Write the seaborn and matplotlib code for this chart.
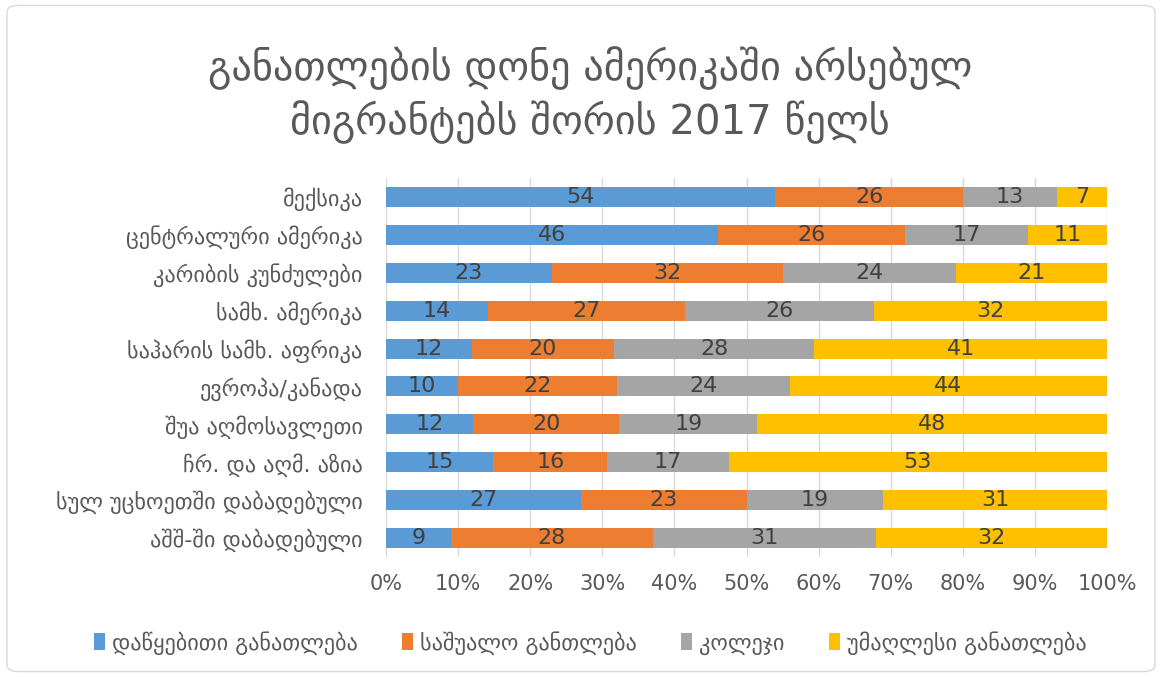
import pandas as pd
import numpy as np
import matplotlib
matplotlib.use("Agg")
import matplotlib.pyplot as plt
import seaborn as sns
from matplotlib.patches import FancyBboxPatch, Patch

regions = ["მექსიკა", "ცენტრალური ამერიკა", "კარიბის კუნძულები", "სამხ. ამერიკა",
           "საჰარის სამხ. აფრიკა", "ევროპა/კანადა", "შუა აღმოსავლეთი",
           "ჩრ. და აღმ. აზია", "სულ უცხოეთში დაბადებული", "აშშ-ში დაბადებული"]
primary = [54, 46, 23, 14, 12, 10, 12, 15, 27, 9]
secondary = [26, 26, 32, 27, 20, 22, 20, 16, 23, 28]
college = [13, 17, 24, 26, 28, 24, 19, 17, 19, 31]
higher = [7, 11, 21, 32, 41, 44, 48, 53, 31, 32]

series = ["დაწყებითი განათლება", "საშუალო განთლება", "კოლეჯი", "უმაღლესი განათლება"]
colors = ["#5B9BD5", "#ED7D31", "#A5A5A5", "#FFC000"]

title = "განათლების დონე ამერიკაში არსებულ\nმიგრანტებს შორის 2017 წელს"

df = pd.DataFrame({"region": regions, series[0]: primary, series[1]: secondary,
                   series[2]: college, series[3]: higher})
vals = df[series].astype(float)
share = vals.div(vals.sum(axis=1), axis=0) * 100
cum = share.cumsum(axis=1)

sns.set_style("white")
plt.rcParams["font.family"] = ["DejaVu Sans"]

fig = plt.figure(figsize=(11.62, 6.77), dpi=100)
ax = fig.add_axes([386 / 1162, 1 - 557 / 677, (1107 - 386) / 1162, (557 - 178) / 677])

# stacked bars: draw cumulative totals, widest first
for i in range(len(series) - 1, -1, -1):
    plot_df = pd.DataFrame({"region": regions, "val": cum[series[i]].values})
    sns.barplot(data=plot_df, y="region", x="val", color=colors[i], orient="h",
                width=0.53, ax=ax, saturation=1, edgecolor="none")

for i, s in enumerate(series):
    centers = cum[s] - share[s] / 2
    for j in range(len(regions)):
        ax.text(centers.iloc[j], j, str(int(vals[s].iloc[j])), ha="center", va="center",
                fontsize=16, color="#404040")

ax.set_xlim(0, 100)
ax.set_xticks(range(0, 101, 10))
ax.set_xticklabels([f"{t}%" for t in range(0, 101, 10)], fontsize=15, color="#595959")
ax.tick_params(axis="y", labelsize=16, labelcolor="#595959", length=0, pad=17)
ax.tick_params(axis="x", length=0, pad=12)
ax.set_xlabel("")
ax.set_ylabel("")
ax.xaxis.grid(True, color="#D9D9D9", linewidth=1)
ax.set_axisbelow(True)
for sp in ax.spines.values():
    sp.set_visible(False)

fig.text(0.508, 1 - 95 / 677, title, ha="center", va="center", fontsize=29,
         color="#595959", linespacing=1.3)

handles = [Patch(facecolor=c, edgecolor="none") for c in colors]
fig.legend(handles, series, loc="center", bbox_to_anchor=(0.508, 1 - 643 / 677), ncol=4,
           frameon=False, fontsize=16, labelcolor="#595959", handlelength=0.5,
           handleheight=0.8, handletextpad=0.3, columnspacing=2.0)

border = FancyBboxPatch((0.006, 0.008), 0.988, 0.984, boxstyle="round,pad=0,rounding_size=0.01",
                        transform=fig.transFigure, facecolor="none", edgecolor="#D9D9D9",
                        linewidth=1)
fig.patches.append(border)

fig.savefig("out.png", dpi=100)
